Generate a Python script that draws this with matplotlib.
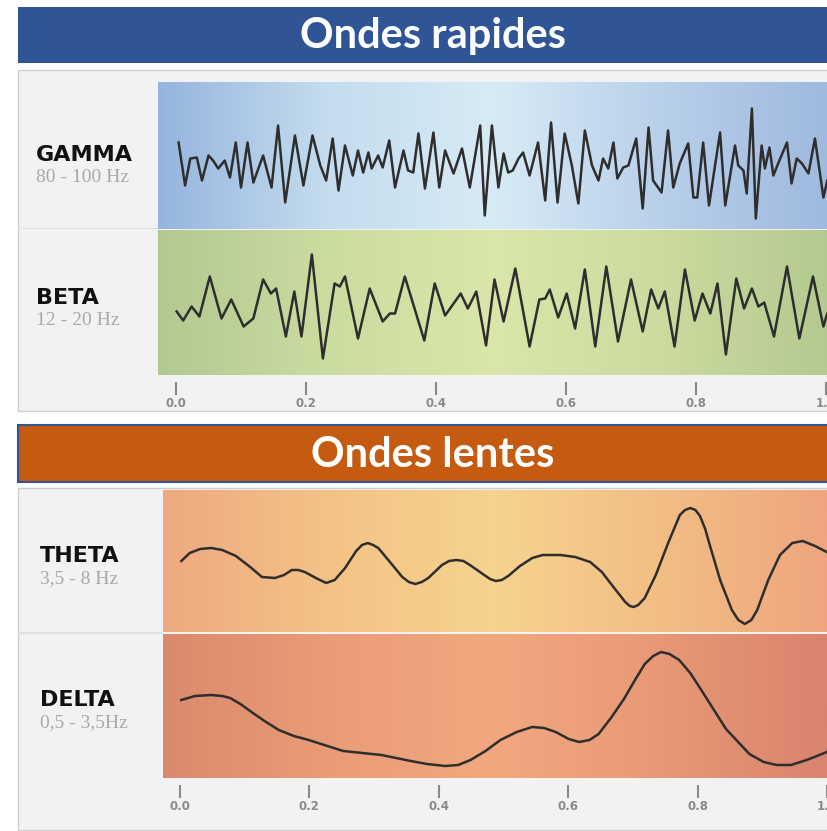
import numpy as np
import matplotlib
matplotlib.use("Agg")
import matplotlib.pyplot as plt
from matplotlib.patches import Rectangle
from matplotlib.colors import LinearSegmentedColormap

W, H = 827, 831

# ---- data (time in s, amplitude in arbitrary units) ----
gamma_t = [0.004, 0.014, 0.022, 0.032, 0.040, 0.050, 0.057, 0.065, 0.075, 0.083,
           0.092, 0.100, 0.110, 0.119, 0.134, 0.147, 0.157, 0.168, 0.183, 0.196,
           0.210, 0.222, 0.231, 0.241, 0.250, 0.260, 0.272, 0.280, 0.288, 0.296,
           0.301, 0.311, 0.318, 0.328, 0.337, 0.350, 0.357, 0.365, 0.373, 0.383,
           0.396, 0.405, 0.414, 0.427, 0.440, 0.452, 0.468, 0.475, 0.486, 0.496,
           0.504, 0.511, 0.518, 0.527, 0.534, 0.544, 0.557, 0.568, 0.577, 0.587,
           0.598, 0.609, 0.619, 0.629, 0.640, 0.650, 0.657, 0.665, 0.673, 0.679,
           0.688, 0.696, 0.708, 0.718, 0.727, 0.734, 0.747, 0.757, 0.765, 0.775,
           0.788, 0.796, 0.802, 0.811, 0.820, 0.837, 0.845, 0.860, 0.865, 0.873,
           0.878, 0.886, 0.892, 0.901, 0.906, 0.913, 0.919, 0.927, 0.940, 0.947,
           0.955, 0.963, 0.973, 0.983, 0.996, 1.002]
gamma_a = [1.3, -3.0, -0.3, -0.2, -2.5, 0.0, -0.5, -1.3, -0.5, -2.2,
           1.3, -3.2, 1.3, -2.7, 0.0, -3.2, 3.0, -4.7, 2.0, -3.0,
           2.0, -1.0, -2.5, 1.7, -3.5, 1.0, -2.0, 0.5, -1.7, 0.3,
           -1.3, 0.0, -1.2, 1.5, -3.2, 0.5, -1.5, -1.7, 2.2, -3.3,
           2.3, -3.2, 0.5, -1.8, 0.7, -3.2, 3.0, -6.0, 3.0, -3.2,
           0.2, -1.7, -1.5, -0.3, 0.3, -2.0, 1.3, -4.5, 3.3, -4.7,
           2.2, -1.0, -4.8, 2.5, -1.0, -2.5, -0.3, -1.3, 1.3, -2.3,
           -1.2, -1.0, 1.7, -5.3, 2.8, -2.5, -3.7, 2.5, -3.2, -0.8,
           1.2, -4.2, -4.2, 1.3, -5.0, 2.3, -5.0, 1.0, -1.0, -1.5,
           -3.8, 4.7, -6.3, 1.0, -1.3, 0.8, -2.0, -0.7, 1.3, -2.8,
           -0.3, -0.8, -1.8, 1.7, -4.2, -2.5]

beta_t = [0.001, 0.011, 0.024, 0.036, 0.052, 0.070, 0.085, 0.104, 0.119, 0.134,
          0.146, 0.154, 0.169, 0.182, 0.193, 0.209, 0.226, 0.244, 0.252, 0.260,
          0.280, 0.298, 0.318, 0.329, 0.337, 0.352, 0.382, 0.398, 0.414, 0.438,
          0.449, 0.462, 0.477, 0.490, 0.504, 0.522, 0.544, 0.559, 0.568, 0.575,
          0.588, 0.601, 0.614, 0.629, 0.645, 0.662, 0.680, 0.700, 0.718, 0.731,
          0.742, 0.752, 0.767, 0.783, 0.798, 0.810, 0.822, 0.833, 0.846, 0.862,
          0.874, 0.886, 0.896, 0.905, 0.920, 0.940, 0.959, 0.980, 0.996, 1.002]
beta_a = [-0.9, -1.8, -0.4, -1.4, 2.6, -1.6, 0.3, -2.4, -1.6, 2.3,
          0.9, 1.4, -3.4, 1.1, -3.4, 4.8, -5.6, 1.9, 1.6, 2.6,
          -3.6, 1.4, -1.9, -1.1, -1.1, 2.6, -3.8, 1.9, -1.3, 0.9,
          -0.6, 1.1, -4.3, 2.3, -1.9, 3.4, -4.4, 0.3, 0.4, 1.3,
          -1.5, 0.9, -2.6, 3.3, -4.4, 3.6, -3.9, 2.3, -2.9, 1.3,
          -0.6, 1.1, -4.4, 3.3, -1.8, 0.9, -1.1, 1.9, -5.2, 2.4,
          -0.6, 1.4, -0.4, 0.0, -3.4, 3.6, -3.6, 2.6, -2.4, -1.1]

theta_t = [0.002, 0.015, 0.031, 0.048, 0.065, 0.086, 0.108, 0.126, 0.146, 0.160,
           0.172, 0.182, 0.192, 0.212, 0.225, 0.238, 0.254, 0.271, 0.280, 0.289,
           0.297, 0.305, 0.323, 0.342, 0.352, 0.362, 0.372, 0.382, 0.403, 0.414,
           0.425, 0.436, 0.446, 0.468, 0.477, 0.486, 0.495, 0.505, 0.523, 0.542,
           0.558, 0.585, 0.608, 0.631, 0.649, 0.668, 0.685, 0.692, 0.698, 0.705,
           0.715, 0.732, 0.751, 0.769, 0.777, 0.785, 0.793, 0.800, 0.808, 0.815,
           0.831, 0.849, 0.859, 0.869, 0.879, 0.888, 0.905, 0.923, 0.942, 0.958,
           0.977, 0.995]
theta_a = [-0.1, 0.7, 1.1, 1.2, 1.0, 0.4, -0.7, -1.7, -1.8, -1.5,
           -1.0, -1.0, -1.2, -1.9, -2.3, -2.0, -0.8, 0.9, 1.5, 1.7,
           1.5, 1.2, -0.2, -1.7, -2.2, -2.4, -2.2, -1.8, -0.5, -0.1,
           0.0, -0.1, -0.5, -1.5, -1.9, -2.1, -2.0, -1.6, -0.6, 0.2,
           0.5, 0.5, 0.3, -0.2, -1.2, -2.8, -4.2, -4.6, -4.7, -4.5,
           -3.8, -1.5, 1.7, 4.5, 5.0, 5.2, 5.0, 4.4, 3.1, 1.5,
           -2.0, -5.0, -6.0, -6.4, -6.0, -5.0, -2.0, 0.5, 1.7, 1.9,
           1.4, 0.8]

delta_t = [0.002, 0.023, 0.048, 0.065, 0.077, 0.093, 0.110, 0.130, 0.152, 0.175,
           0.198, 0.251, 0.310, 0.355, 0.380, 0.408, 0.428, 0.447, 0.470, 0.493,
           0.518, 0.542, 0.560, 0.578, 0.598, 0.614, 0.630, 0.644, 0.663, 0.683,
           0.700, 0.715, 0.728, 0.740, 0.753, 0.768, 0.785, 0.801, 0.840, 0.876,
           0.898, 0.918, 0.940, 0.964, 0.980, 0.995]
delta_a = [0.6, 1.0, 1.1, 1.0, 0.8, 0.2, -0.6, -1.5, -2.4, -3.0,
           -3.4, -4.5, -4.9, -5.5, -5.8, -6.0, -5.9, -5.4, -4.5, -3.4,
           -2.6, -2.1, -2.2, -2.6, -3.3, -3.6, -3.4, -2.8, -1.2, 0.7,
           2.6, 4.2, 5.0, 5.4, 5.2, 4.6, 3.3, 1.7, -2.3, -4.8,
           -5.6, -5.9, -5.9, -5.4, -5.0, -4.6]

tick_vals = [0.0, 0.2, 0.4, 0.6, 0.8, 1.0]

bands = [
    # name, range, t, a, gradient colours
    ("GAMMA", "80 - 100 Hz", gamma_t, gamma_a, ["#96B5DE", "#C4DCEE", "#D8EBF5", "#B9D0EA", "#9FBADF"]),
    ("BETA", "12 - 20 Hz", beta_t, beta_a, ["#B2C990", "#CBDCA0", "#DAE6AA", "#CCDBA0", "#B4CA8F"]),
    ("THETA", "3,5 - 8 Hz", theta_t, theta_a, ["#EFA980", "#F3C386", "#F6D38E", "#F2BE84", "#EFA57E"]),
    ("DELTA", "0,5 - 3,5Hz", delta_t, delta_a, ["#DB896D", "#EA9C77", "#F2A87F", "#E89876", "#D9846F"]),
]


def box(x, y, w, h):
    """pixel box (top-left origin) -> figure fraction rect"""
    return [x / W, 1 - (y + h) / H, w / W, h / H]


fig = plt.figure(figsize=(W / 100, H / 100), dpi=100)
fig.patch.set_facecolor("white")


def rect(x, y, w, h, fc, ec="none", lw=0):
    r = Rectangle((x / W, 1 - (y + h) / H), w / W, h / H, transform=fig.transFigure,
                  facecolor=fc, edgecolor=ec, linewidth=lw, zorder=-1)
    fig.patches.append(r)


# banners and frames
rect(18, 7, 820, 56, "#2F5597")
fig.text(433 / W, 1 - 36 / H, "Ondes rapides", color="white", fontsize=30,
         fontweight="bold", family="Lato", ha="center", va="center")
rect(18, 70, 820, 341, "#F3F2F2", "#CFCFCF", 1)

rect(18, 425, 820, 57, "#C55A11", "#2F5597", 1.5)
fig.text(433 / W, 1 - 455 / H, "Ondes lentes", color="white", fontsize=30,
         fontweight="bold", family="Lato", ha="center", va="center")
rect(18, 488, 820, 342, "#F3F2F2", "#CFCFCF", 1)

# separators in label column
rect(18, 228, 140, 1.5, "#E2E0E0")
rect(18, 632, 145, 1.5, "#E2E0E0")

layout = [
    # left px, top px, height px, zero px for t, label y px
    (158, 82, 147, 176, 155),
    (158, 230, 145, 176, 298),
    (163, 490, 142, 180, 556),
    (163, 634, 144, 180, 700),
]
centers = [155.5, 302.5, 560, 706]

for (name, rng, t, a, cols), (lx, ty, hh, x0, ly), cy in zip(bands, layout, centers):
    ax = fig.add_axes(box(lx, ty, 827 - lx, hh))
    xl = ((lx - x0) / 650, (827 - x0) / 650)
    yl = ((cy - ty - hh) / 10, (cy - ty) / 10)
    cmap = LinearSegmentedColormap.from_list(name, cols)
    grad = np.linspace(0, 1, 256).reshape(1, -1)
    ax.imshow(grad, cmap=cmap, extent=[xl[0], xl[1], yl[0], yl[1]], aspect="auto", zorder=0)
    ax.plot(t, a, color="#2E2E2E", lw=1.8, solid_joinstyle="round", zorder=2)
    ax.set_xlim(xl)
    ax.set_ylim(yl)
    ax.axis("off")

    lab_x = 36 if name in ("GAMMA", "BETA") else 40
    fig.text(lab_x / W, 1 - ly / H, name, fontsize=16, fontweight="heavy",
             family="DejaVu Sans", color="#111111", va="center", ha="left")
    fig.text(lab_x / W, 1 - (ly + 23) / H, rng, fontsize=14, family="Liberation Serif",
             color="#A9A9A9", va="center", ha="left")

# time tick axes
for lx, ty, x0 in [(158, 376, 176), (163, 779, 180)]:
    tax = fig.add_axes(box(lx, ty, 827 - lx, 6))
    tax.set_xlim((lx - x0) / 650, (827 - x0) / 650)
    tax.set_ylim(0, 1)
    for s in tax.spines.values():
        s.set_visible(False)
    tax.patch.set_alpha(0)
    tax.set_yticks([])
    tax.set_xticks(tick_vals)
    tax.set_xticklabels([f"{v:.1f}" for v in tick_vals])
    tax.tick_params(axis="x", direction="out", length=9, width=1.5, color="#8A8A8A",
                    labelsize=8.5, labelcolor="#8A8A8A", pad=2)
    for lbl in tax.get_xticklabels():
        lbl.set_fontweight("bold")

fig.savefig("out.png", dpi=100)
